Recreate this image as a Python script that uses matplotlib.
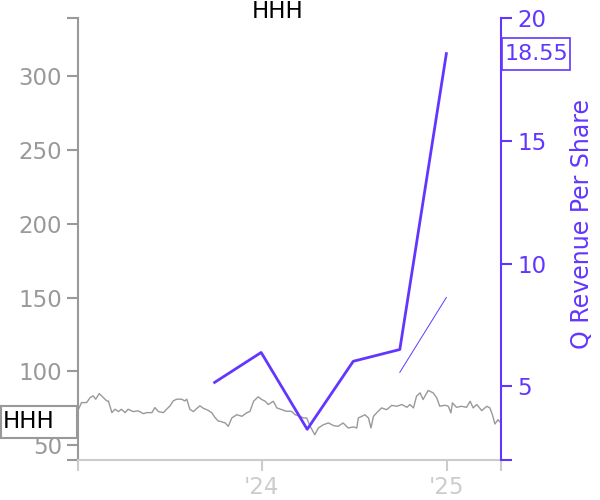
import matplotlib
matplotlib.use("Agg")
import matplotlib.pyplot as plt
from matplotlib.patches import Rectangle
import pandas as pd

# ---- data ----
price_dates = [
    "2023-01-04", "2023-01-10", "2023-01-20", "2023-01-27", "2023-02-02", "2023-02-07",
    "2023-02-14", "2023-02-22", "2023-03-01", "2023-03-04", "2023-03-11", "2023-03-17",
    "2023-03-24", "2023-03-30", "2023-04-06", "2023-04-12", "2023-04-22", "2023-05-02",
    "2023-05-12", "2023-05-19", "2023-05-29", "2023-06-04", "2023-06-11", "2023-06-21",
    "2023-06-27", "2023-07-04", "2023-07-10", "2023-07-17", "2023-07-27", "2023-08-02",
    "2023-08-06", "2023-08-12", "2023-08-19", "2023-08-26", "2023-09-01", "2023-09-08",
    "2023-09-17", "2023-09-24", "2023-10-01", "2023-10-07", "2023-10-11", "2023-10-21",
    "2023-10-27", "2023-11-03", "2023-11-13", "2023-11-23", "2023-12-02", "2023-12-09",
    "2023-12-16", "2023-12-25", "2024-01-01", "2024-01-08", "2024-01-14", "2024-01-24",
    "2024-01-31", "2024-02-10", "2024-02-19", "2024-02-29", "2024-03-07", "2024-03-17",
    "2024-03-23", "2024-03-30", "2024-04-06", "2024-04-15", "2024-04-22", "2024-05-02",
    "2024-05-12", "2024-05-22", "2024-05-31", "2024-06-10", "2024-06-20", "2024-06-30",
    "2024-07-07", "2024-07-10", "2024-07-17", "2024-07-23", "2024-07-30", "2024-08-04",
    "2024-08-09", "2024-08-15", "2024-08-25", "2024-09-04", "2024-09-14", "2024-09-24",
    "2024-10-04", "2024-10-14", "2024-10-20", "2024-10-27", "2024-11-02", "2024-11-09",
    "2024-11-15", "2024-11-25", "2024-12-05", "2024-12-12", "2024-12-18", "2024-12-28",
    "2025-01-04", "2025-01-09", "2025-01-12", "2025-01-20", "2025-01-30", "2025-02-09",
    "2025-02-16", "2025-02-22", "2025-03-01", "2025-03-11", "2025-03-21", "2025-03-27",
    "2025-04-01", "2025-04-06", "2025-04-12", "2025-04-16"]
price_values = [
    74.4, 78.9, 78.9, 82.3, 83.5, 81.2,
    85.0, 82.3, 80.0, 80.0, 72.1, 74.4,
    72.8, 74.4, 72.1, 74.4, 72.8, 73.3,
    71.4, 72.1, 72.1, 75.5, 72.8, 72.1,
    74.4, 76.7, 80.0, 81.2, 81.2, 80.0,
    81.2, 74.4, 72.8, 75.0, 76.7, 75.0,
    73.7, 72.1, 68.7, 66.4, 66.2, 65.1,
    62.8, 68.5, 70.7, 69.6, 71.9, 73.0,
    79.8, 82.8, 81.0, 79.8, 77.6, 79.8,
    75.3, 74.1, 73.0, 73.0, 70.7, 69.6,
    68.5, 68.5, 62.8, 57.1, 61.7, 63.9,
    65.1, 63.3, 62.8, 65.1, 61.7, 62.4,
    61.7, 68.5, 69.6, 70.7, 68.5, 61.7,
    69.6, 71.9, 75.3, 74.1, 77.0, 76.4,
    77.6, 75.7, 77.6, 75.3, 83.2, 85.5,
    81.0, 87.1, 85.5, 82.1, 76.4, 77.1,
    76.4, 71.9, 78.7, 75.7, 76.4, 75.7,
    79.8, 75.3, 77.6, 73.5, 76.4, 75.3,
    70.7, 64.4, 67.3, 65.8]

rev_dates = ["2023-09-30", "2023-12-31", "2024-03-31", "2024-06-30", "2024-09-30", "2024-12-31"]
rev_values = [5.16, 6.38, 3.25, 6.02, 6.50, 18.55]

thin_dates = ["2024-09-30", "2024-12-31"]
thin_values = [5.57, 8.62]

ticker = "HHH"
left_ticks = [50, 100, 150, 200, 250, 300]
right_ticks = [5, 10, 15, 20]
x_tick_dates = ["2024-01-01", "2025-01-01"]
x_tick_labels = ["'24", "'25"]

# ---- style ----
PURPLE = "#6236FF"
GRAY = "#999999"
LIGHT = "#cccccc"
FS = 16.5

x_start = pd.Timestamp("2023-01-03")
x_end = pd.Timestamp("2025-04-18")
y_lo, y_hi = 40.0, 339.5
r_lo, r_hi = 2.0, 20.0

W, H = 600, 500
fig = plt.figure(figsize=(6, 5), dpi=100)
ax = fig.add_axes([0.13, 0.08, 0.705, 0.884])
ax2 = ax.twinx()

ax.plot(pd.to_datetime(price_dates), price_values, color=GRAY, lw=1.0)
ax.set_xlim(x_start, x_end)
ax.set_ylim(y_lo, y_hi)

ax2.plot(pd.to_datetime(rev_dates), rev_values, color=PURPLE, lw=2.0)
ax2.plot(pd.to_datetime(thin_dates), thin_values, color=PURPLE, lw=0.7)
ax2.set_ylim(r_lo, r_hi)
ax2.set_xlim(x_start, x_end)

# spines
for s in ["top", "right"]:
    ax.spines[s].set_visible(False)
ax.spines["left"].set_color(GRAY)
ax.spines["left"].set_linewidth(1.5)
ax.spines["bottom"].set_color(LIGHT)
ax.spines["bottom"].set_linewidth(1.5)
for s in ["top", "left", "bottom"]:
    ax2.spines[s].set_visible(False)
ax2.spines["right"].set_color(PURPLE)
ax2.spines["right"].set_linewidth(1.5)

# left ticks
ax.set_yticks([y_lo] + left_ticks + [y_hi])
ax.set_yticklabels([""] + [str(t) for t in left_ticks] + [""])
ax.tick_params(axis="y", colors=GRAY, labelsize=FS, length=8, width=1.5)

# right ticks
ax2.set_yticks([r_lo] + right_ticks)
ax2.set_yticklabels([""] + [str(t) for t in right_ticks])
ax2.tick_params(axis="y", colors=PURPLE, labelsize=FS, length=8, width=1.5)
ax2.set_ylabel("Q Revenue Per Share", color=PURPLE, fontsize=17)
ax2.yaxis.set_label_coords(1.163, 0.534)

# x ticks
xt = [x_start] + list(pd.to_datetime(x_tick_dates)) + [x_end]
ax.set_xticks(xt)
ax.set_xticklabels([""] + x_tick_labels + [""])
ax.tick_params(axis="x", colors=LIGHT, labelsize=FS, length=8, width=1.5)

# title
fig.text(278 / W, 1 - 12 / H, ticker, ha="center", va="center", fontsize=FS, color="black")

# last-value boxes
fig.canvas.draw()
py = ax.transData.transform((0, price_values[-1]))[1]
ry = ax2.transData.transform((0, rev_values[-1]))[1]
bh = 32

fig.patches.append(Rectangle((1 / W, (py - bh / 2) / H), 76 / W, bh / H, transform=fig.transFigure,
                             fc="white", ec=GRAY, lw=1.5, zorder=5))
fig.text(3 / W, py / H, ticker, ha="left", va="center", fontsize=FS, color="black", zorder=6)

fig.patches.append(Rectangle((502 / W, (ry - bh / 2) / H), 68 / W, bh / H, transform=fig.transFigure,
                             fc="white", ec=PURPLE, lw=1.2, zorder=5))
fig.text(505 / W, ry / H, f"{rev_values[-1]:.2f}", ha="left", va="center", fontsize=16,
         color=PURPLE, zorder=6)

fig.savefig("out.png", dpi=100)
